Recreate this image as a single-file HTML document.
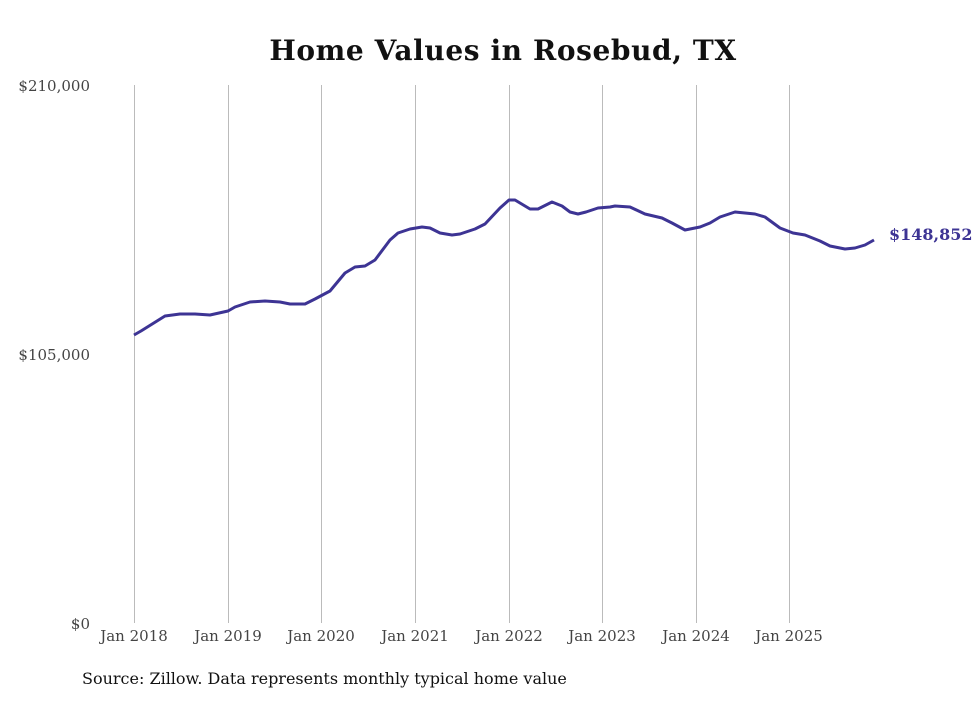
<!DOCTYPE html>
<html><head><meta charset="utf-8"><style>
body{margin:0;background:#fff;}
svg text{font-family:"DejaVu Serif","Liberation Serif",serif;}
</style></head><body>
<svg width="980" height="699" viewBox="0 0 980 699" xmlns="http://www.w3.org/2000/svg">
<rect width="980" height="699" fill="#fff"/>
<text x="503" y="60" text-anchor="middle" font-size="28" font-weight="bold" letter-spacing="0.6" fill="#111">Home Values in Rosebud, TX</text>
<g stroke="#bbb" stroke-width="1">
<line x1="134.5" y1="85" x2="134.5" y2="623"/>
<line x1="228.5" y1="85" x2="228.5" y2="623"/>
<line x1="321.5" y1="85" x2="321.5" y2="623"/>
<line x1="415.5" y1="85" x2="415.5" y2="623"/>
<line x1="509.5" y1="85" x2="509.5" y2="623"/>
<line x1="602.5" y1="85" x2="602.5" y2="623"/>
<line x1="696.5" y1="85" x2="696.5" y2="623"/>
<line x1="789.5" y1="85" x2="789.5" y2="623"/>
</g>
<g font-size="15" fill="#444" text-anchor="end">
<text x="90" y="91">$210,000</text>
<text x="90" y="360">$105,000</text>
<text x="90" y="629">$0</text>
</g>
<g font-size="15" fill="#444" text-anchor="middle">
<text x="134" y="641">Jan 2018</text>
<text x="228" y="641">Jan 2019</text>
<text x="321" y="641">Jan 2020</text>
<text x="415" y="641">Jan 2021</text>
<text x="509" y="641">Jan 2022</text>
<text x="602" y="641">Jan 2023</text>
<text x="696" y="641">Jan 2024</text>
<text x="789" y="641">Jan 2025</text>
</g>
<polyline fill="none" stroke="#3d3494" stroke-width="3" stroke-linejoin="round" points="134,335 141,331 165,316 180,314 195,314 210,315 228,311 235,307 250,302 265,301 280,302 290,304 305,304 315,299 330,291 345,273 355,267 365,266 375,260 390,240 398,233 410,229 422,227 430,228 440,233 452,235 460,234 475,229 485,224 500,208 509,200 515,200 530,209 538,209 552,202 562,206 570,212 578,214 586,212 598,208 610,207 615,206 630,207 645,214 662,218 672,223 685,230 700,227 710,223 720,217 735,212 755,214 765,217 780,228 793,233 805,235 820,241 830,246 845,249 855,248 865,245 874,240"/>
<text x="889" y="240" font-size="16" font-weight="bold" fill="#3d3494">$148,852</text>
<text x="82" y="684" font-size="16" fill="#111">Source: Zillow. Data represents monthly typical home value</text>
</svg>
</body></html>
